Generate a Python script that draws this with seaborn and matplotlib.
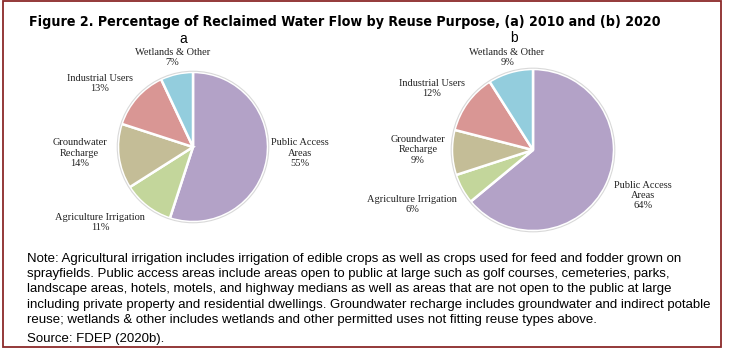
import matplotlib
matplotlib.use("Agg")
import matplotlib.pyplot as plt
from matplotlib.patches import Rectangle
import seaborn as sns

# data
categories = ["Public Access\nAreas", "Agriculture Irrigation", "Groundwater\nRecharge",
              "Industrial Users", "Wetlands & Other"]
share_2010 = [55, 11, 14, 13, 7]
share_2020 = [64, 6, 9, 12, 9]
panel_names = ["a", "b"]
slice_colors = ["#B3A2C7", "#C3D69B", "#C4BD97", "#D99694", "#93CDDD"]

title = "Figure 2. Percentage of Reclaimed Water Flow by Reuse Purpose, (a) 2010 and (b) 2020"
note = ("Note: Agricultural irrigation includes irrigation of edible crops as well as crops used for feed and fodder grown on\n"
        "sprayfields. Public access areas include areas open to public at large such as golf courses, cemeteries, parks,\n"
        "landscape areas, hotels, motels, and highway medians as well as areas that are not open to the public at large\n"
        "including private property and residential dwellings. Groundwater recharge includes groundwater and indirect potable\n"
        "reuse; wetlands & other includes wetlands and other permitted uses not fitting reuse types above.")
source = "Source: FDEP (2020b)."

sns.set_theme(style="white")
plt.rcParams["font.family"] = ["Liberation Sans", "DejaVu Sans"]

W, H = 729, 353
fig = plt.figure(figsize=(W / 100, H / 100), dpi=100)
fig.patch.set_facecolor("white")

# layout (pixel centres / radii of each pie, label offsets in radius units)
pie_layout = [
    {"cx": 193, "cy": 147, "r": 75,
     "labels": [(1.43, -0.08), (-1.24, -1.01), (-1.51, -0.08), (-1.24, 0.85), (-0.27, 1.19)],
     "panel": (-0.13, 1.44)},
    {"cx": 533, "cy": 150, "r": 81,
     "labels": [(1.36, -0.56), (-1.49, -0.67), (-1.42, 0.0), (-1.25, 0.76), (-0.32, 1.14)],
     "panel": (-0.23, 1.38)},
]

for values, name, lay in zip([share_2010, share_2020], panel_names, pie_layout):
    half = 1.7 * lay["r"]
    ax = fig.add_axes([(lay["cx"] - half) / W, (H - lay["cy"] - half) / H,
                       2 * half / W, 2 * half / H])
    ax.pie(values, colors=sns.color_palette(slice_colors), startangle=90, counterclock=False,
           radius=1, wedgeprops={"edgecolor": "white", "linewidth": 1.8})
    ax.add_patch(plt.Circle((0, 0), 1.01, fill=False, edgecolor="#D9D9D9", linewidth=0.8))
    ax.set_xlim(-1.7, 1.7)
    ax.set_ylim(-1.7, 1.7)
    ax.set_aspect("auto")
    ax.axis("off")
    for cat, val, (lx, ly) in zip(categories, values, lay["labels"]):
        ax.text(lx, ly, f"{cat}\n{val}%", ha="center", va="center", fontsize=7.5,
                family="Liberation Serif", color="#222222", linespacing=1.15)
    ax.text(*lay["panel"], name, ha="center", va="center", fontsize=10, color="black")

fig.text(29 / W, 1 - 26 / H, title, fontsize=10.2, fontweight="bold", family="DejaVu Sans",
         stretch="condensed", ha="left", va="baseline", color="black")
fig.text(27 / W, 1 - 253 / H, note, fontsize=9.5, ha="left", va="top", color="black",
         linespacing=1.36)
fig.text(27 / W, 1 - 339 / H, source, fontsize=9.5, ha="left", va="center", color="black")

fig.add_artist(Rectangle((3 / W, 1 - 347 / H), 718 / W, 346 / H, transform=fig.transFigure,
                         fill=False, edgecolor="#8B2A2A", linewidth=1.3))

fig.savefig("out.png", dpi=100)
